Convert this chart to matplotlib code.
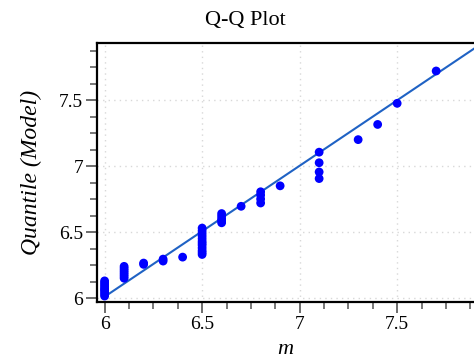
import matplotlib
matplotlib.use("Agg")
import matplotlib.pyplot as plt
from matplotlib.ticker import MultipleLocator, FixedLocator

# ---- data ----
m_vals = ([6.0] * 9 + [6.1] * 7 + [6.2] * 2 + [6.3] * 2 + [6.4] +
          [6.5] * 12 + [6.6] * 5 + [6.7] + [6.8] * 4 + [6.9] +
          [7.1] * 4 + [7.3] + [7.4] + [7.5] + [7.7])
q_vals = [6.015, 6.03, 6.045, 6.06, 6.07, 6.085, 6.10, 6.115, 6.13,
          6.15, 6.165, 6.18, 6.195, 6.21, 6.225, 6.24,
          6.255, 6.265,
          6.28, 6.295,
          6.31,
          6.33, 6.345, 6.36, 6.38, 6.40, 6.415, 6.43, 6.45, 6.47, 6.49, 6.51, 6.53,
          6.57, 6.585, 6.60, 6.62, 6.64,
          6.695,
          6.72, 6.75, 6.78, 6.805,
          6.85,
          6.905, 6.955, 7.025, 7.105,
          7.20,
          7.315,
          7.475,
          7.72]
line_x = [6.0, 7.9]
line_y = [6.01, 7.895]
x_ticks = [6, 6.5, 7, 7.5]
x_labels = ["6", "6.5", "7", "7.5"]
y_ticks = [6, 6.5, 7, 7.5]
y_labels = ["6", "6.5", "7", "7.5"]

plt.rcParams['font.family'] = ['Liberation Serif', 'DejaVu Serif']

fig = plt.figure(figsize=(4.74, 3.6), dpi=100)
ax = fig.add_axes([97 / 474, 1 - 302 / 360, 1 - 97 / 474, (302 - 43) / 360])

ax.plot(line_x, line_y, color='#1f62c4', lw=1.5, zorder=2, solid_capstyle='butt')
ax.scatter(m_vals, q_vals, s=40, color='#0000ff', edgecolors='none', zorder=3)

ax.set_xlim(5.961, 7.894)
ax.set_ylim(5.97, 7.932)

ax.xaxis.set_major_locator(FixedLocator(x_ticks))
ax.set_xticklabels(x_labels)
ax.yaxis.set_major_locator(FixedLocator(y_ticks))
ax.set_yticklabels(y_labels)
ax.xaxis.set_minor_locator(MultipleLocator(0.125))
ax.yaxis.set_minor_locator(MultipleLocator(0.125))

ax.grid(True, which='major', color='#d8d8d8', linestyle=(0, (1, 3)), lw=1.0)
ax.set_axisbelow(True)

for s in ['left', 'top', 'bottom']:
    ax.spines[s].set_linewidth(1.6)
    ax.spines[s].set_color('black')
ax.spines['right'].set_visible(False)

ax.tick_params(which='major', direction='out', length=8, width=1.3, color='#606060',
               labelsize=14, pad=2)
ax.tick_params(which='minor', direction='out', length=5, width=1.2, color='#606060')
ax.tick_params(axis='x', which='both', top=False)

fig.text(245 / 474, 1 - 20 / 360, "Q-Q Plot", fontsize=16, ha='center', va='center')
ax.set_xlabel("m", fontsize=16, style='italic', labelpad=5)
ax.set_ylabel("Quantile (Model)", fontsize=17, style='italic', labelpad=12)

fig.savefig("out.png", dpi=100)
